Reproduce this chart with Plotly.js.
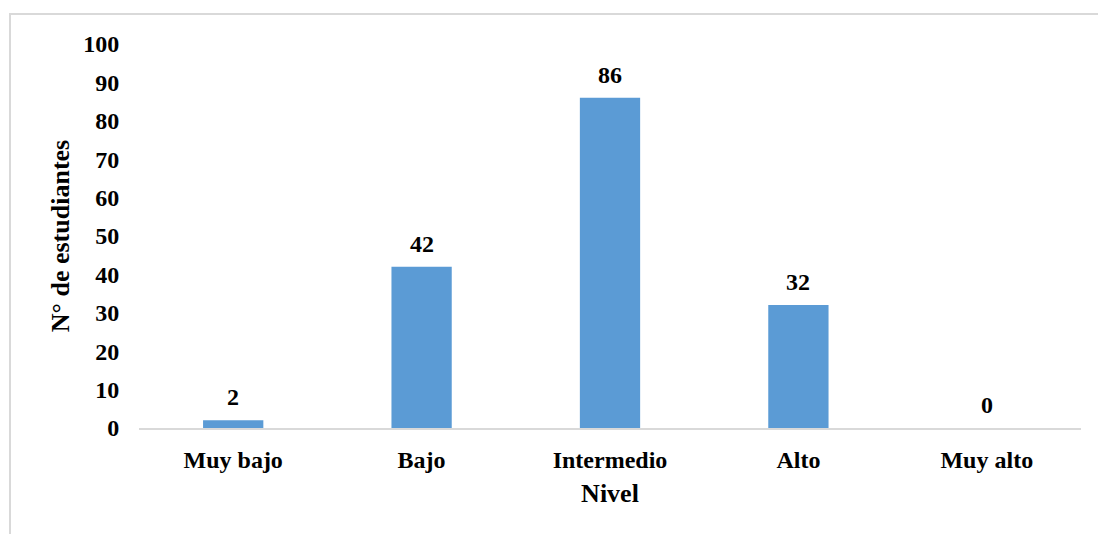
<!DOCTYPE html>
<html>
<head>
<meta charset="utf-8">
<script src="https://cdn.plot.ly/plotly-3.0.1.min.js"></script>
<style>
  html, body { margin: 0; padding: 0; background: #fff; overflow: hidden; }
  #wrap { position: relative; width: 1098px; height: 534px; }
  #frame { position: absolute; left: 9px; top: 13px; width: 1200px; height: 600px; border: 2px solid #d9d9d9; box-sizing: border-box; pointer-events: none; }
  #chart { position: absolute; left: 0; top: 0; width: 1098px; height: 534px; }
</style>
</head>
<body>
<div id="wrap">
  <div id="chart"></div>
  <div id="frame"></div>
</div>
<script>
const categories = ["Muy bajo", "Bajo", "Intermedio", "Alto", "Muy alto"];
const values = [2, 42, 86, 32, 0];
const yTicks = [0, 10, 20, 30, 40, 50, 60, 70, 80, 90, 100];

const fontFamily = '"Liberation Serif", "Times New Roman", serif';

const trace = {
  type: 'bar',
  x: categories,
  y: values,
  marker: { color: '#5b9bd5' },
  width: 0.32,
  hoverinfo: 'skip'
};

const annotations = categories.map((c, i) => ({
  x: c,
  y: values[i],
  xref: 'x',
  yref: 'y',
  text: '<b>' + values[i] + '</b>',
  showarrow: false,
  yanchor: 'bottom',
  yshift: 8,
  font: { family: fontFamily, size: 24, color: '#000' }
}));

const layout = {
  width: 1098,
  height: 534,
  margin: { l: 139, r: 17, t: 44, b: 106 },
  paper_bgcolor: 'rgba(0,0,0,0)',
  plot_bgcolor: 'rgba(0,0,0,0)',
  showlegend: false,
  font: { family: fontFamily, size: 24, color: '#000' },
  xaxis: {
    type: 'category',
    showline: true,
    linecolor: '#d9d9d9',
    linewidth: 2,
    showgrid: false,
    zeroline: false,
    ticks: 'outside',
    ticklen: 9,
    tickcolor: 'rgba(0,0,0,0)',
    tickfont: { family: fontFamily, size: 24, color: '#000' },
    ticktext: categories.map(c => '<b>' + c + '</b>'),
    tickvals: categories,
    title: { text: '<b>Nivel</b>', font: { family: fontFamily, size: 26, color: '#000' }, standoff: 12 },
    fixedrange: true
  },
  yaxis: {
    range: [0, 100],
    tickvals: yTicks,
    ticktext: yTicks.map(v => '<b>' + v + '</b>'),
    showline: false,
    showgrid: false,
    zeroline: false,
    ticks: 'outside',
    ticklen: 14,
    tickcolor: 'rgba(0,0,0,0)',
    tickfont: { family: fontFamily, size: 24, color: '#000' },
    title: { text: '<b>N° de estudiantes</b>', font: { family: fontFamily, size: 26, color: '#000' }, standoff: 6 },
    fixedrange: true
  },
  annotations: annotations
};

Plotly.newPlot('chart', [trace], layout, { displayModeBar: false, staticPlot: true });
</script>
</body>
</html>
